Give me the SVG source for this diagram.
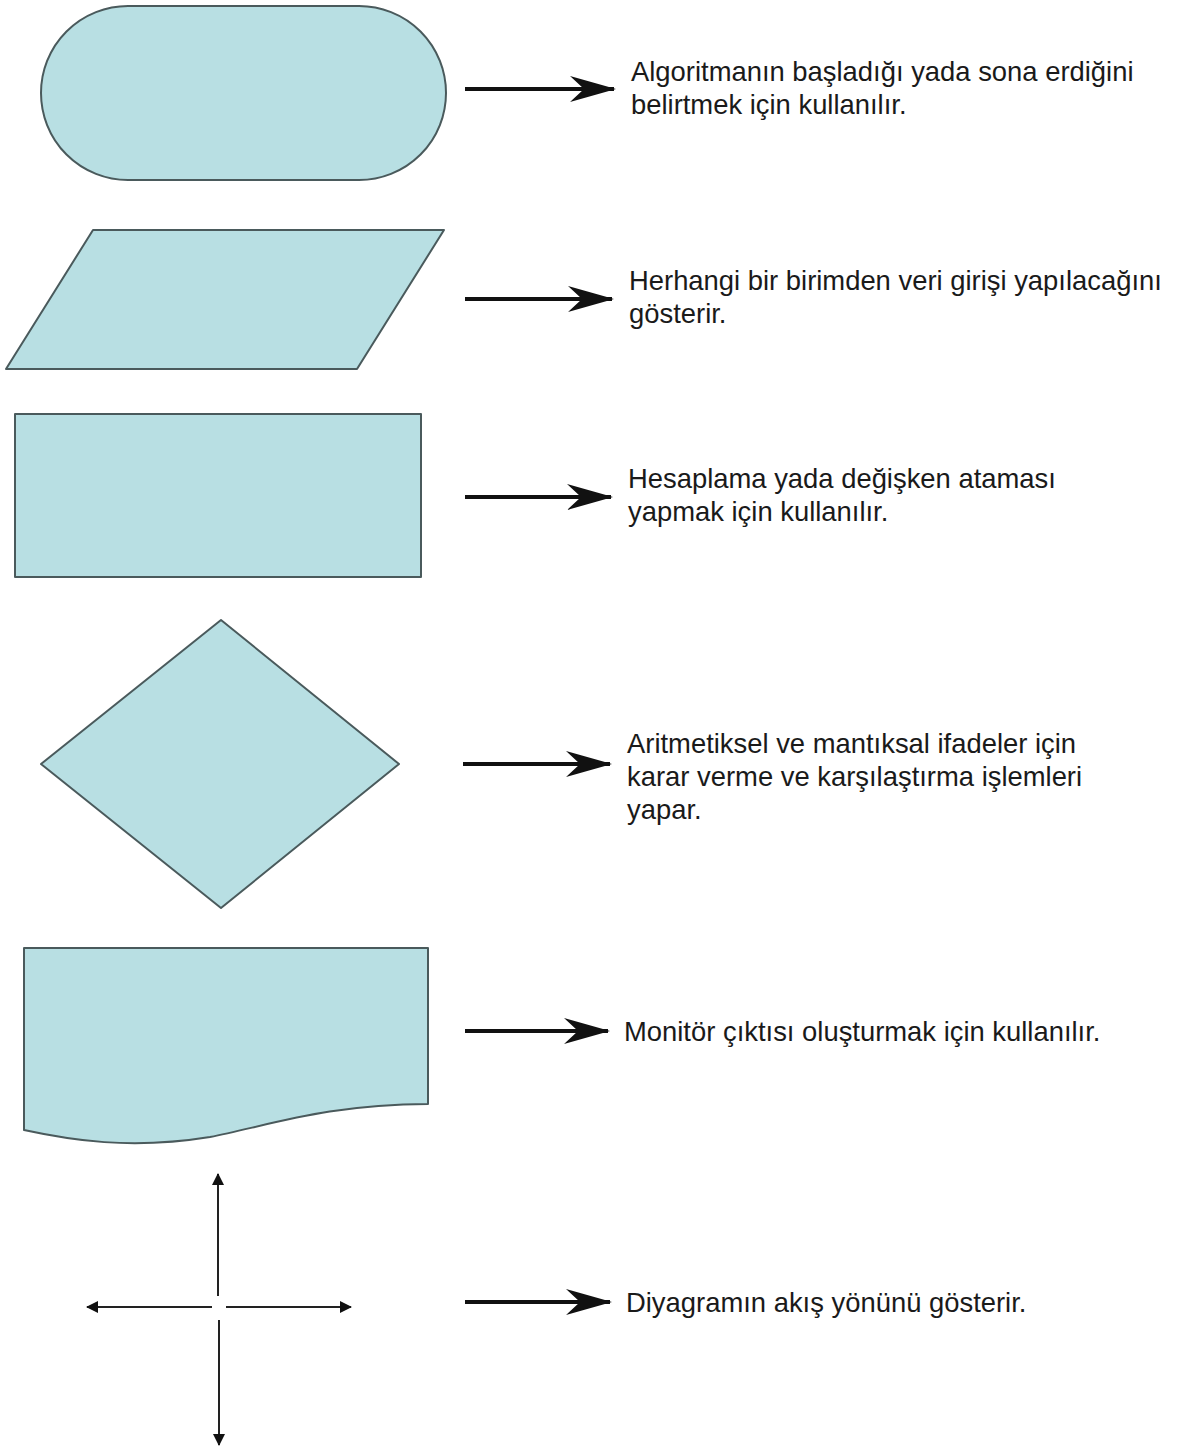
<svg xmlns="http://www.w3.org/2000/svg" width="1180" height="1450" viewBox="0 0 1180 1450">
<style>
.shape{fill:#b8dfe3;stroke:#4a5a5c;stroke-width:2;stroke-linejoin:round}
.conn{stroke:#111;stroke-width:4;fill:none}
.thin{stroke:#222;stroke-width:2;fill:none}
.lbl{font-family:"Liberation Sans",Arial,sans-serif;font-size:27.4px;fill:#1a1a1a}
</style>
<defs>
<marker id="big" viewBox="0 0 46 30" refX="44" refY="15" markerWidth="46" markerHeight="30" markerUnits="userSpaceOnUse" orient="auto">
<path d="M0,2 L46,15 L0,28 L14,15 Z" fill="#111"/>
</marker>
<marker id="small" viewBox="0 0 12 12" refX="11" refY="6" markerWidth="12" markerHeight="12" markerUnits="userSpaceOnUse" orient="auto">
<path d="M0,0 L12,6 L0,12 Z" fill="#111"/>
</marker>
</defs>
<rect width="1180" height="1450" fill="#fff"/>
<g id="terminal"><rect class="shape" x="41" y="6" width="405" height="174" rx="87" ry="87"/></g>
<g id="input"><polygon class="shape" points="93,230 444,230 357,369 6,369"/></g>
<g id="process"><rect class="shape" x="15" y="414" width="406" height="163"/></g>
<g id="decision"><polygon class="shape" points="221,620 399,764 221,908 41,764"/></g>
<g id="display"><path class="shape" d="M24,948 L428,948 L428,1104 C330,1104 270,1125 210,1137 C130,1150 70,1140 24,1130 Z"/></g>
<g id="flow">
<line class="thin" x1="218" y1="1296" x2="218" y2="1174" marker-end="url(#small)"/>
<line class="thin" x1="219" y1="1320" x2="219" y2="1445" marker-end="url(#small)"/>
<line class="thin" x1="212" y1="1307" x2="87" y2="1307" marker-end="url(#small)"/>
<line class="thin" x1="226" y1="1307" x2="351" y2="1307" marker-end="url(#small)"/>
</g>
<g id="connectors">
<line class="conn" x1="465" y1="89" x2="614" y2="89" marker-end="url(#big)"/>
<line class="conn" x1="465" y1="299" x2="612" y2="299" marker-end="url(#big)"/>
<line class="conn" x1="465" y1="497" x2="611" y2="497" marker-end="url(#big)"/>
<line class="conn" x1="463" y1="764" x2="610" y2="764" marker-end="url(#big)"/>
<line class="conn" x1="465" y1="1031" x2="608" y2="1031" marker-end="url(#big)"/>
<line class="conn" x1="465" y1="1302" x2="610" y2="1302" marker-end="url(#big)"/>
</g>
<g id="labels">
<text class="lbl" x="631" y="81">Algoritmanın başladığı yada sona erdiğini</text>
<text class="lbl" x="631" y="114">belirtmek için kullanılır.</text>
<text class="lbl" x="629" y="290">Herhangi bir birimden veri girişi yapılacağını</text>
<text class="lbl" x="629" y="323">gösterir.</text>
<text class="lbl" x="628" y="488">Hesaplama yada değişken ataması</text>
<text class="lbl" x="628" y="521">yapmak için kullanılır.</text>
<text class="lbl" x="627" y="753">Aritmetiksel ve mantıksal ifadeler için</text>
<text class="lbl" x="627" y="786">karar verme ve karşılaştırma işlemleri</text>
<text class="lbl" x="627" y="819">yapar.</text>
<text class="lbl" x="624" y="1041">Monitör çıktısı oluşturmak için kullanılır.</text>
<text class="lbl" x="626" y="1312">Diyagramın akış yönünü gösterir.</text>
</g>
</svg>
